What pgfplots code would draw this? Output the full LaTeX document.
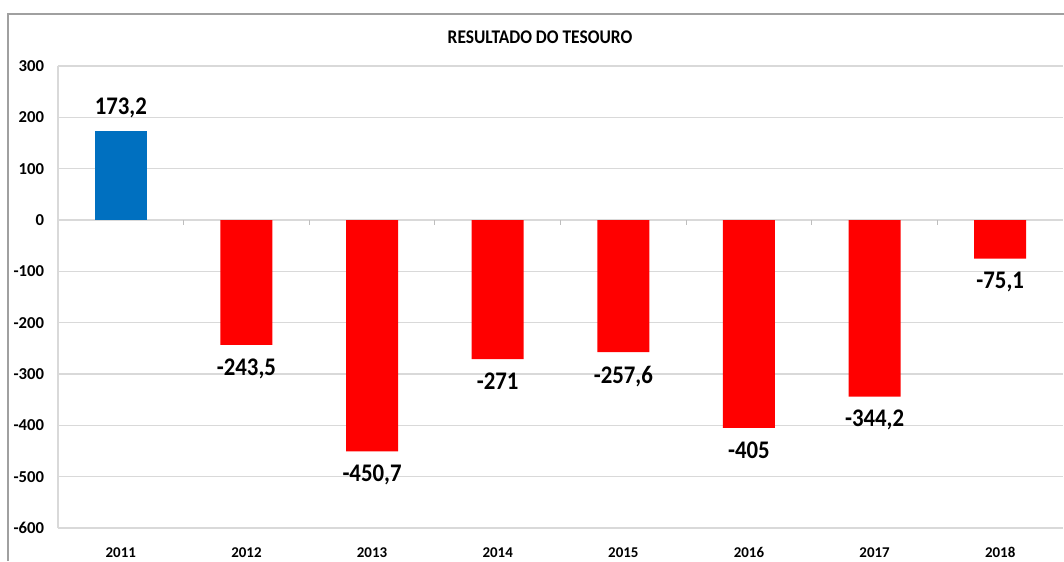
\documentclass[border=0pt]{standalone}
\usepackage{pgfplots}
\pgfplotsset{compat=1.18}
\usepackage{fontspec}
\setmainfont{Carlito}
\newfontfamily\narrowfont{Carlito}[FakeStretch=0.9]

\definecolor{barblue}{RGB}{0,112,192}
\definecolor{barred}{RGB}{255,0,0}
\definecolor{gridgray}{RGB}{217,217,217}
\definecolor{framegray}{RGB}{160,160,160}

\begin{document}
\begin{tikzpicture}
\useasboundingbox (0,0) rectangle (798pt,420.75pt);
% chart frame (left and top edges visible)
\draw[framegray, line width=0.8pt] (6pt,0) -- (6pt,410.25pt) -- (798pt,410.25pt);
\node[font=\narrowfont\fontsize{14.5}{17}\selectfont\bfseries] at (405pt,393pt) {RESULTADO DO TESOURO};

\begin{axis}[
    at={(43.5pt,24.75pt)}, anchor=south west,
    scale only axis,
    width=753.75pt, height=346.5pt,
    xmin=-0.5, xmax=7.5,
    ymin=-600, ymax=300,
    ytick={-600,-500,...,300},
    xtick={0,...,7},
    xticklabels={2011,2012,2013,2014,2015,2016,2017,2018},
    axis lines*=left,
    x axis line style={draw=none},
    y axis line style={draw=gridgray, line width=0.8pt},
    major tick length=0pt,
    ymajorgrids,
    grid style={gridgray, line width=0.8pt},
    xticklabel style={font=\fontsize{11.2}{13}\selectfont\bfseries, yshift=-11pt},
    yticklabel style={font=\fontsize{12.5}{14}\selectfont\bfseries, xshift=-7pt},
    /pgf/number format/assume math mode=true,
    ybar, bar width=39pt,
    nodes near coords,
    point meta=explicit symbolic,
    every node near coord/.append style={font=\narrowfont\fontsize{19}{22}\selectfont\bfseries, inner sep=10pt},
    clip=false,
]
\addplot[fill=barblue, draw=none, bar shift=0pt] coordinates {(0,173.2) [173,2]};
\addplot[fill=barred, draw=none, bar shift=0pt,
    every node near coord/.append style={anchor=north}] coordinates {
    (1,-243.5) [-243,5]
    (2,-450.7) [-450,7]
    (3,-271)   [-271]
    (4,-257.6) [-257,6]
    (5,-405)   [-405]
    (6,-344.2) [-344,2]
    (7,-75.1)  [-75,1]
};
\pgfplotsinvokeforeach{0.5,1.5,...,6.5}{
    \draw[gridgray!70!gray, line width=0.8pt] (axis cs:#1,0) -- ([yshift=-4pt]axis cs:#1,0);
}
\end{axis}
\end{tikzpicture}
\end{document}
